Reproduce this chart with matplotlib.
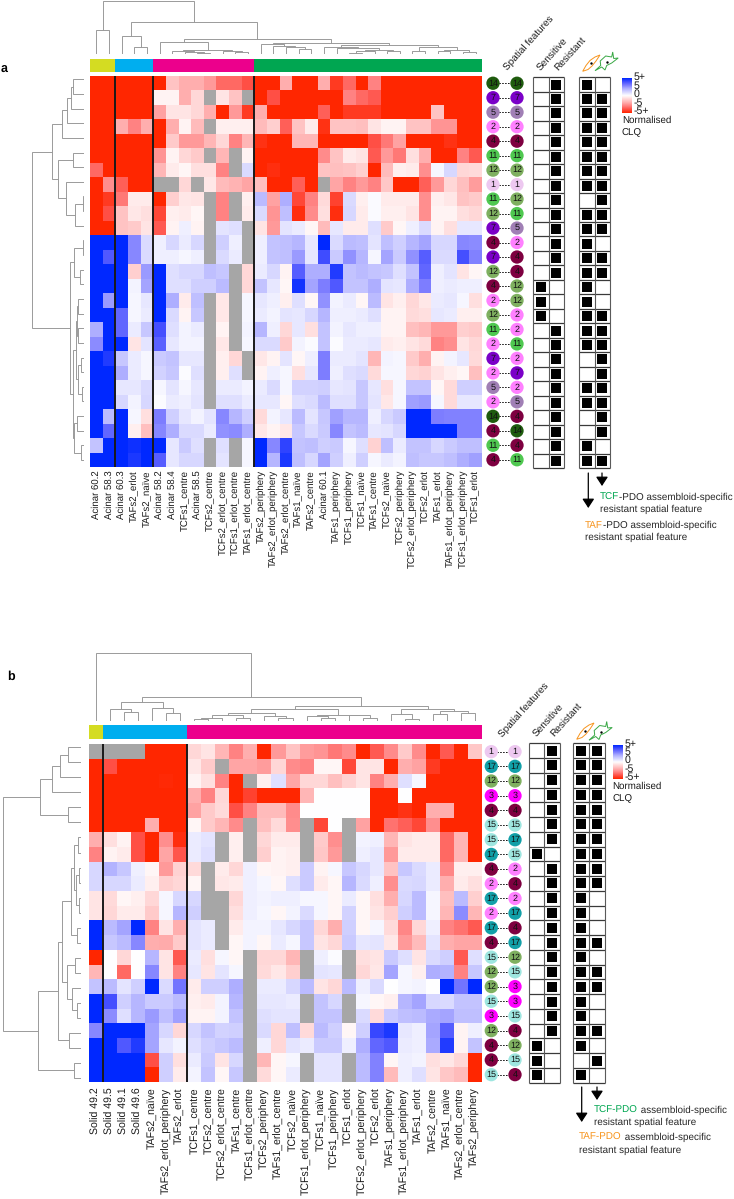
from typing import Any, List, Tuple

import matplotlib

matplotlib.use("Agg")
import matplotlib.pyplot as plt
import numpy as np
from matplotlib.colors import LinearSegmentedColormap
from matplotlib.patches import Polygon

plt.rcParams["font.family"] = ["Liberation Sans", "DejaVu Sans"]
plt.rcParams["text.hinting"] = "no_hinting"

WIDTH, HEIGHT = 734, 1199
na = float("nan")

# Panel a
columns_a = [
    "Acinar 60.2", "Acinar 58.3", "Acinar 60.3", "TAFs2_erlot", "TAFs2_naïve", "Acinar 58.2", "Acinar 58.4",
    "TCFs1_centre", "Acinar 58.5", "TCFs2_centre", "TCFs2_erlot_centre", "TCFs1_erlot_centre", "TAFs1_erlot_centre",
    "TAFs2_periphery", "TAFs2_erlot_periphery", "TAFs2_erlot_centre", "TAFs1_naïve", "TAFs2_centre", "Acinar 60.1",
    "TAFs1_periphery", "TCFs1_periphery", "TCFs1_naïve", "TAFs1_centre", "TCFs2_naïve", "TCFs2_periphery",
    "TCFs2_erlot_periphery", "TCFs2_erlot", "TAFs1_erlot", "TAFs1_erlot_periphery", "TCFs1_erlot_periphery",
    "TCFs1_erlot",
]
features_a = [
    (14, 14), (7, 7), (5, 5), (2, 2), (4, 4), (11, 11), (12, 12), (1, 1), (11, 12), (12, 11), (7, 5), (4, 2), (7, 4),
    (12, 4), (4, 12), (2, 12), (12, 2), (11, 2), (2, 11), (7, 2), (2, 7), (5, 2), (2, 5), (14, 4), (4, 14), (11, 4),
    (4, 11),
]
clq_a = [
    [-5, -5, -5, -5, -5, -5, -1.5, -2, -2, -2.5, -3.5, -3.5, -4, -5, -5, -2, -5, -5, -2, -4.5, -3.5, -5, -3, -5, -5, -5, -5, -5, -5, -5, -5],
    [-5, -5, -5, -5, -5, -0.3, -0.3, -2, -1, na, -0.7, -1.5, na, -5, -4, -5, -5, -5, -5, -5, -3, -3.5, -3.8, -5, -5, -5, -5, -5, -5, -5, -5],
    [-5, -5, -5, -5, -5, -2.3, -0.7, -0.7, -1, -2, -5, -2.5, -4.5, -2, -5, -5, -5, -5, -3.7, -5, -4.5, -4.5, -4.5, -5, -5, -5, -5, -1.5, -5, -5, -5],
    [-5, -5, -2, -3, -2, -5, -2, -0.3, -1.7, na, -0.4, -0.4, -0.4, -1.7, -1.2, -3.7, -1.5, -0.5, -4.7, -1.5, -1.5, -1.6, -0.7, -0.3, -0.3, -1.5, -1.5, -2.6, -2.6, -5, -5],
    [-5, -5, -5, -5, -5, -5, -1.3, -2.5, -2.5, -1.8, -1, -3, -1.8, -4.7, -5, -5, -1.8, -1.8, -5, -5, -5, -5, -4, -3.2, -2.3, -5, -5, -5, -4.7, -5, -5],
    [-5, -5, -5, -5, -5, -2.6, -0.3, -1, -1.3, na, -1.8, na, -0.3, -5, -5, -5, -5, -5, -2.8, -1.5, -0.5, -0.7, -3.8, -2.5, -3.2, -0.8, -2, -5, -5, -3, -3.8],
    [-3.5, -5, -5, -5, -5, -1.8, -0.5, -0.2, -0.8, -0.8, -3, na, 0.9, -5, -4.8, -5, -5, -5, -1.5, -1.6, -1.5, -1.2, -5, -1.7, -0.4, -0.5, -2.7, 0.2, 1, -1, -0.9],
    [-5, -2.7, -3.7, -5, -5, na, na, -1, na, -0.6, -1.7, -1.9, -2.2, -1.6, -5, -5, -3.7, -5, na, -2.2, -3, -2.5, -3, -1.4, -5, -5, -3.7, -2.5, -1, -1.6, -2.4],
    [-5, -4.5, -3.2, -0.5, -0.5, -5, -1.2, -0.6, -0.7, na, -3, na, -0.4, 1.7, -2.3, 2, -4.2, -3, -0.9, -4.3, 0.9, -0.4, 0.15, -0.5, -0.5, -0.5, -2.7, -0.4, -0.6, -1.5, -1.3],
    [-5, -4, -1.5, -0.6, -0.8, -4.2, -0.4, -0.5, -0.2, na, -3, na, -0.5, 0.9, -2.6, 1.6, -4.8, -2.8, -0.8, -4.8, 1, -0.5, 0.15, -0.4, -0.4, -0.7, -2.7, -0.3, -0.3, -0.8, -1],
    [-5, -5, -1.5, -1.3, -0.7, -3.8, -0.3, 0.4, -0.3, na, 0.7, 0.8, na, -0.7, -2.5, 0.7, 0.5, -0.2, -1.7, 0.6, -0.5, -0.5, 0.8, -1.3, -0.2, 0.4, 0.9, -0.3, -0.8, 0.6, 0.6],
    [5, 5, 5, 2.8, 0.9, 0.4, 1, 0.5, 1, na, 1.2, 0.4, na, 0.4, 1.5, 1.6, 1.8, 0.6, 5, 0.9, 1.7, 1.6, 0.7, 1.6, 1.2, 1.8, 2.2, 1, 1, 2.8, 2.7],
    [5, 3.8, 5, 2.8, 0.9, 0.4, 0.4, 0.2, 0.4, na, 0.9, 0.5, na, 0.4, 1.5, 1.6, 2.4, 0.6, 4.1, 1.3, 2.6, 1.8, 0.2, 2.2, 1.3, 2.6, 3.7, 0.9, 0.9, 4, 2.9],
    [5, 5, 5, -1.2, 2.4, 5, 0.8, 1, 1, 1.6, 1.4, na, -1, 0.5, 1, -0.3, 3.7, 2, 2, 4.5, 1.5, 1.7, 1.5, 1.4, 0.8, 1.5, 3.5, 0.4, 0.7, -0.7, -0.2],
    [5, 5, 5, 0.3, 2.2, 5, 0.8, 0.8, 1.2, 1.2, 1.7, na, -1, 1.5, 0.6, -0.2, 4.7, 2.2, 3, 3.8, 1.5, 1.5, 2, 0.7, 0.6, 2, 3, 0.4, 0.5, 0.4, 0.4],
    [5, 2.4, 5, 0.2, 0.6, 5, 2, -0.5, 1.6, na, -0.6, na, 0.2, 0.6, 0.4, -0.4, 0.8, -0.2, 2.6, 0.3, 0.5, -0.2, 1.7, -0.7, -0.4, -1, -0.6, 0.5, 0.6, 0.2, -0.8],
    [5, 5, 3.5, 0.2, 0.5, 5, 0.9, -0.3, 1.4, na, -0.6, na, 0.2, 0.5, 0.3, 0.7, 0.6, 1, 1.8, 0.4, 0.4, 0.5, 0.8, -0.3, -0.3, -0.9, -0.8, 0.6, 0.5, -0.4, -0.4],
    [2, 5, 3.5, 0.5, 1.4, 4, 0.8, 0.3, 0.5, na, -0.3, na, 0.3, 1.8, 0.4, -1, 0.6, -0.8, 1.5, 0.3, 0.6, 0.4, 0.4, -0.3, -0.3, -1.6, -1.8, -2.5, -2.5, -1.2, -1.3],
    [2.7, 5, 5, -0.7, 0.7, 3.6, 0.6, 0.3, 0.3, na, -0.6, na, 0.2, 0.9, 0.9, -1.3, 0.3, 0.1, 1.5, 0.1, 0.5, 0.5, 0.6, -0.5, -0.4, -0.7, -0.9, -3, -2.7, -0.7, -1],
    [5, 4.5, 1.4, 0.5, 0.2, 1.3, 1.5, 0.6, 0.6, na, -0.4, -1, na, -0.6, -0.3, 0.7, -0.2, 0.4, 3, 0.5, 0.5, 0.7, -1.8, 0.3, 0.2, -1.3, -2, -0.3, 0.3, 0.6, -0.9],
    [5, 5, 2, 0.5, 0.2, 1.1, 1.4, 0.1, 0.8, na, -0.4, 0.8, na, -0.3, 0.4, 0.2, -0.8, 0.6, 3, 0.4, 0.8, 0.9, -0.9, 0.2, 0.2, -1, -1.1, -0.7, -0.4, -0.2, -1.6],
    [5, 5, 0.6, 0.6, 0.9, 0.2, 0.7, 0.2, 0.6, na, 0.5, 0.5, 0.3, 0.5, 0.9, 0.2, 1.1, 1.1, 1.2, 0.6, 0.7, 1.4, 0.6, -0.8, 0.2, 1.5, 1.5, -0.2, -0.9, 1.2, 1.2],
    [5, 5, 1, 0.3, 1, 0.1, 0.5, 0.4, 0.7, na, 0.8, 0.8, 0.5, 0.6, 0.6, -0.2, 0.8, 0.9, 1.7, 0.8, 0.8, 1.4, 0.7, -0.6, 0.2, 2.3, 2.4, 0.2, -0.9, 0.6, 0.6],
    [5, 1.7, 5, 0.2, -0.8, 3, 1.2, 0.6, 0.3, 0.7, 2.8, 1.8, 1.2, -0.9, 0.3, 0.6, 1.7, 0.7, 1.4, 2.3, 1.8, 1.8, 0.4, 1, 1.3, 5, 5, 3, 2.9, 2.9, 2.9],
    [5, 3.5, 5, -0.4, -1.6, 2.8, 2, 0.9, 0.9, 0.5, 2.6, 2.7, 2, -0.6, -0.3, -0.6, 1.4, 0.9, 1.3, 2.8, 1.5, 1.7, 0.6, 0.7, 1, 5, 5, 5, 5, 2.9, 2.9],
    [1.5, 5, 5, 4.8, 5, 5, 0.6, 1.3, 0.8, na, 0.8, na, 0.2, 5, 2.8, 4.3, 1.5, 1.6, 1.2, 1.3, 0.2, 0.8, -1.1, 1.6, 0.5, 1.5, 1.5, 1, 1.3, 1.6, 1.6],
    [5, 5, 5, 4.6, 5, 3.7, 0.6, 1, 1, na, 0.7, na, 0.2, 5, 1.8, 4.6, 1.6, 1, 2.2, 1.2, 0.4, 1.2, 0.2, 0.5, 0.3, 1.6, 1.4, 1.4, 1.6, 2, 2.3],
]
sensitive_a = [0] * 14 + [1, 1, 1] + [0] * 10
taf_a = [1, 1, 1, 1, 1, 1, 1, 1, 0, 1, 1, 1, 1, 1, 1, 1, 1, 1, 1, 0, 0, 1, 1, 0, 0, 1, 1]
tcf_a = [0, 1, 1, 1, 1, 1, 1, 1, 1, 1, 1, 0, 1, 1, 0, 0, 1, 1, 1, 1, 1, 1, 1, 1, 1, 0, 1]
groups_a = [(2, "#d4dc22"), (3, "#00aeef"), (8, "#ec008c"), (18, "#00a651")]
splits_a = [2, 5, 13]

# Panel b
columns_b = [
    "Solid 49.2", "Solid 49.5", "Solid 49.1", "Solid 49.6", "TAFs2_naïve", "TAFs2_erlot_periphery", "TAFs2_erlot",
    "TCFs1_centre", "TCFs2_centre", "TCFs2_erlot_centre", "TAFs1_centre", "TCFs1_erlot_centre", "TCFs2_periphery",
    "TAFs1_erlot_centre", "TCFs2_naïve", "TCFs1_erlot_periphery", "TCFs1_naïve", "TCFs1_periphery", "TCFs1_erlot",
    "TCFs2_erlot_periphery", "TCFs2_erlot", "TAFs1_periphery", "TAFs1_erlot_periphery", "TAFs1_erlot", "TAFs2_centre",
    "TAFs1_naïve", "TAFs2_erlot_centre", "TAFs2_periphery",
]
features_b = [
    (1, 1), (17, 17), (12, 12), (3, 3), (4, 4), (15, 15), (15, 17), (17, 15), (4, 2), (2, 4), (17, 2), (2, 17),
    (17, 4), (4, 17), (15, 12), (12, 15), (12, 3), (15, 3), (3, 15), (12, 4), (4, 12), (4, 15), (15, 4),
]
clq_b = [
    [na, na, na, na, -5, -5, -5, -1, -0.7, -1.8, -3, -2, -5, -2.5, -1.5, -2.4, -2.6, -3.2, -2.8, -5, -3.8, -2.8, -1.3, -2.8, -5, -3.8, -5, -1.4],
    [-5, -4, -5, -5, -5, -5, -5, -0.6, -1.3, na, -2.2, -2.2, -2.4, -1, -2.8, -3, -0.2, -0.2, -4.2, -0.7, -0.7, -5, -2, -2.3, -4.5, -5, -5, -5],
    [-5, -5, -5, -5, -5, -4.9, -5, -0.3, -0.8, -3, -5, na, -0.4, 0.8, -2.2, -1, -1, -1.6, -1.1, -0.7, -3, -2, 0.8, 0.2, -5, -5, -5, -5],
    [-5, -5, -5, -5, -5, -5, -5, -2, -3, -1, -5, -4.3, -5, -5, -5, -1.8, 0, 0, 0, 0, -5, -5, 0, -5, -5, -5, -5, -5],
    [-5, -5, -5, -5, -5, -5, -5, -2.3, -1.3, -0.9, -4, -3, -1.7, -1.7, -2.8, 0, 0, 0, 0, 0, -5, -5, -4.7, -5, -2, -2, -5, -5],
    [-5, -5, -5, -5, -2, -5, -5, -0.2, -1.3, -1.8, -2.8, na, -1.6, -0.9, -2.7, na, -4.2, 0, na, -2.3, -5, -3.3, -3.7, -4.2, -2.7, -5, -5, -5],
    [-2, -0.8, -0.3, -4, -5, -2.7, -4.8, 0.5, 0.7, na, -0.4, na, -1, -0.5, -0.5, na, -1.3, -2.7, na, 0.3, 0.4, -1.8, -0.7, -0.5, -0.5, -3.5, -1.8, -5],
    [-3, -0.3, -0.5, -4, -5, -2.2, -3.9, 0.5, 0.8, na, -0.4, na, -1.2, -0.3, -0.4, na, -1.4, -2.5, na, 0.4, 0.6, -2.5, -0.5, -0.5, -0.5, -3.5, -1.8, -5],
    [1, 1.9, 1.4, 0.4, -0.2, -2.5, -1.1, -0.9, na, -0.5, -1, 0.4, -0.2, -0.3, -0.4, 1.3, -0.3, 0.2, 1.4, 1, 0.6, -1.5, 1.4, 0.9, 0.5, -2.9, -0.4, -0.4],
    [1, 1, 1, 0.5, -0.4, -1.2, -1, -0.2, na, -0.6, -0.5, 0.4, 0.2, -0.2, 0.8, 1.3, -0.5, -0.2, 1.8, 0.9, 0.4, -2.7, 0.9, 1, 0.5, -2, -0.5, -0.8],
    [-0.7, -0.9, -0.2, -0.4, -1, 0.2, 1, 1, na, na, -1, 0.4, 0.3, 0.4, 0.4, 0.2, 0.2, -0.2, 0.5, -0.2, -0.8, -2, 1, 1.7, 0.2, -1.6, 1.7, -1.2],
    [-0.7, -1, -0.5, -0.5, -1.3, 0.2, 1.8, 1.2, na, na, -0.8, 0.4, 0.2, -0.2, 0.3, 0.9, 0.2, -0.2, 1.1, -0.2, -0.7, -1.2, 1.2, 1.7, 0.2, -1.8, 2.7, -1.8],
    [5, 1.7, 2.2, 5, -3, -0.7, -2, 0.7, 0.5, na, -0.5, 0.3, 0.3, 0.6, 1, 1.4, -1, -2, 1.2, -0.2, 0.2, -0.9, -2.9, -1, 0.4, -3, -3.3, -3.8],
    [5, 1.4, 1.7, 2.8, -2, -2.1, -1.3, 0.7, 0.5, na, -0.2, 0.3, -0.2, 0.5, 0.2, 1.4, -0.7, -1, 1.3, 0.6, 0.7, -0.6, -2.5, -1.7, 0.7, -2, -2.2, -2.2],
    [-5, 0, -1, 0, 1.8, -0.7, -3.8, 0.5, -0.8, 0.2, -0.2, na, -1, -1, -1.8, na, 0.4, 0.1, na, -0.8, -0.7, 1.3, 0.8, -0.7, 0.9, 1.2, -3.8, 0.8],
    [-1.8, 0, -3.5, 0, 2.8, -0.7, -3, 0.6, -0.7, 0.7, 0.2, na, -0.9, -0.6, -1.2, na, 0.7, 0.6, na, -1, -0.6, 2.2, 0.2, -0.4, 2, 1.9, -3, 1.4],
    [1.5, 1.7, 0.7, 1.2, 5, 0.9, 3.2, -0.5, 1.2, 1.2, 2, na, 0.5, 0.5, 1, 1.7, -0.7, -1, 1.7, 0.4, 0.9, 0, 0.2, 0.3, 0, 5, 3.2, 5],
    [5, 4, 1.2, 1.8, 1.3, 1.3, 1.7, -0.4, -0.5, 0.3, 1.8, na, 0.6, 0.6, 0.5, na, 1.5, 1, na, 0.2, -0.2, -0.4, 1.8, 2.2, 1, 0.9, 1.5, 1.5],
    [5, 2.7, 0.8, 1.8, 2.4, 1.6, 2.3, -0.3, -0.3, 0.3, 1.5, na, 0.8, 0.7, 0.7, na, 1.5, 1.5, na, 0.9, -0.9, 1.3, 1.6, 1.7, 2.1, 2.2, 1.6, 1.6],
    [2.8, 5, 5, 5, 2.2, 1, -1, 1, 1.5, 1.1, 1.2, na, 0.9, -1, 1.6, -0.9, 1.7, 1.2, -0.2, 1.2, 4.2, 4.6, 0.6, 0.4, 2.2, 3.7, -0.3, 0.4],
    [5, 5, 3.8, 4.5, 2.2, 0.6, 0.3, 0.8, 1.2, 1.4, 1.7, na, 0.4, -1, 0.7, 0.5, 1.3, 1.3, 0.4, 2, 3.5, 3.8, 0.5, 0.4, 2.1, 4.5, -0.3, 1.5],
    [5, 5, 5, 5, -4, 1.2, -0.8, 0.5, 1.3, -0.7, 1, na, -1.8, -0.2, 0.2, na, 0.7, 0.7, na, 1.7, 2.9, -0.2, 0.4, 0.3, -0.8, -0.6, -1, -5],
    [5, 5, 5, 5, -5, 1.2, -0.5, 0.3, 1.5, -0.2, 1.4, na, -0.9, -0.2, 0.5, na, 0.7, 0.7, na, 1.7, 2.9, -1.7, 0.4, 0.8, -0.7, -1.4, -1.7, -5],
]
sensitive_b = [0, 0, 0, 0, 0, 0, 0, 1, 0, 0, 0, 0, 0, 0, 0, 0, 0, 0, 0, 0, 1, 1, 1]
taf_b = [1, 1, 1, 1, 1, 1, 1, 1, 1, 1, 1, 1, 1, 1, 1, 1, 1, 1, 1, 1, 1, 0, 1]
tcf_b = [1, 1, 1, 1, 1, 1, 1, 1, 1, 1, 0, 0, 0, 1, 0, 1, 1, 0, 0, 1, 0, 1, 0]
groups_b = [(1, "#d4dc22"), (6, "#00aeef"), (21, "#ec008c")]
splits_b = [1, 7]

# Cluster trees as (merge height, left, right), a plain int is a leaf
col_tree_a = (53, (23.7, 0, 1), (32,
    (17.7, 2, (7.3, 3, 4)),
    (15,
        (11.7, 5, (3.6, (2.6, 6, (2.2, 7, (1.5, 8, 9))), (2.6, 10, (1.6, 11, 12)))),
        (11.3,
            (9.7, 13, (8, 14, (6.7, 15, (4.7, 16, 17)))),
            (9,
                (7.3, 18, (5.7, 19, (4, (2.6, (1.4, 20, 21), 22), (2.8, 23, 24)))),
                (6.7, (3.3, 25, 26), (4.5, (3.3, 27, 28), (1.7, 29, 30))),
            ),
        ),
    ),
))
row_tree_a = (52.7,
    (32.7,
        (22, (17.7, (13.3, (11, 0, 1), 2), 3), 4),
        (26, (11.7, 5, 6), (18.3, 7, (9.3, (1, 8, 9), 10))),
    ),
    (14.3,
        (10.3, (1.7, 11, 12), (4.3, 13, 14)),
        (11,
            (8.3, (7, (6, 15, 16), (6.5, 17, 18)), (6, (3.7, 19, 20), (2, 21, 22))),
            (10.3, (7.7, 23, 24), (3.7, 25, 26)),
        ),
    ),
)
col_tree_b = (68, 0, (24,
    (18.3, (11.3, 1, (8.3, 2, 3)), (12.3, 4, (7.3, 5, 6))),
    (14.7,
        (11.3,
            (7.3,
                (5.3, (3, (1.5, 7, 8), 9), (2.3, 10, 11)),
                (4.7, 12, (2.3, 13, 14)),
            ),
            (6, (4.7, 15, (2.3, 16, 17)), (5.3, 18, (3, 19, 20))),
        ),
        (11.3, (6.3, 21, (2, 22, 23)), (9.7, (6.7, 24, 25), (7.3, 26, 27))),
    ),
))
row_tree_b = (77.7,
    (41, (29.3, (21, (13.3, 0, 1), 2), 3), (13.3, 4, 5)),
    (42.7,
        (22.7,
            (18.7,
                (10.3, (7, (2.7, 6, 7), (5, (1.7, 8, 9), (2.3, 10, 11))), (3.7, 12, 13)),
                (14.3, (6, 14, 15), (9.3, 16, (3.7, 17, 18))),
            ),
            (12, 19, 20),
        ),
        (7, 21, 22),
    ),
)

feature_colors = {
    1: "#edc8f0", 2: "#ff80ff", 3: "#ff00ff", 4: "#7e0040", 5: "#a07fb5", 7: "#7b00c8", 11: "#4fc850", 12: "#7fb060",
    14: "#1f5c0e", 15: "#9ee6e0", 17: "#12a0a8",
}

clq_cmap = LinearSegmentedColormap.from_list(
    "clq",
    [
        (0.0, "#ff2600"), (0.1, "#ff5046"), (0.2, "#ff8282"), (0.3, "#ffafaf"), (0.4, "#ffd7d7"), (0.5, "#ffffff"),
        (0.6, "#d7d7ff"), (0.7, "#afafff"), (0.8, "#7d7dff"), (0.9, "#4650ff"), (1.0, "#0028ff"),
    ],
)
clq_cmap.set_bad("#a6a6a6")


def px_axes(fig: plt.Figure, x0: float, y0: float, x1: float, y1: float) -> plt.Axes:
    ax = fig.add_axes((x0 / WIDTH, 1 - y1 / HEIGHT, (x1 - x0) / WIDTH, (y1 - y0) / HEIGHT))
    ax.axis("off")
    return ax


def draw_tree(ax: plt.Axes, node: Any, horizontal: bool) -> Tuple[float, float]:
    # Returns leaf position and merge height of the node
    if isinstance(node, int):
        return float(node), 0.0
    height, left, right = node
    p1, h1 = draw_tree(ax, left, horizontal)
    p2, h2 = draw_tree(ax, right, horizontal)
    pos = [p1, p1, p2, p2]
    hts = [h1, height, height, h2]
    if horizontal:
        ax.plot(hts, pos, color="#9a9a9a", lw=0.7, solid_joinstyle="miter")
    else:
        ax.plot(pos, hts, color="#9a9a9a", lw=0.7, solid_joinstyle="miter")
    return (p1 + p2) / 2, height


def draw_flags(fig: plt.Figure, x0: float, x1: float, y0: float, y1: float, flags: List[List[int]]) -> None:
    grid = np.array(flags)
    ax = px_axes(fig, x0, y0, x1, y1)
    rows, cols = grid.shape
    ax.hlines(np.arange(rows + 1), 0, cols, color="#3a3a3a", lw=0.9, clip_on=False)
    ax.vlines(np.arange(cols + 1), 0, rows, color="#5a5a5a", lw=0.8, clip_on=False)
    ys, xs = np.nonzero(grid)
    ax.scatter(xs + 0.5, ys + 0.5, marker="s", s=58, c="black", linewidths=0, zorder=3)
    ax.set_xlim(0, cols)
    ax.set_ylim(rows, 0)


def draw_panel(fig: plt.Figure, cfg: dict) -> None:
    values = np.ma.masked_invalid(np.array(cfg["clq"], dtype=float))
    rows, cols = values.shape
    hx0, hx1, hy0, hy1 = cfg["heat"]

    ax = px_axes(fig, hx0, hy0, hx1, hy1)
    ax.pcolormesh(values, cmap=clq_cmap, vmin=-5, vmax=5, antialiased=False)
    ax.set_xlim(0, cols)
    ax.set_ylim(rows, 0)
    for split in cfg["splits"]:
        ax.axvline(split, color="#1a1a1a", lw=1.4)
    step = (hx1 - hx0) / cols
    for i, name in enumerate(cfg["columns"]):
        fig.text(
            (hx0 + step * (i + 0.5)) / WIDTH, 1 - cfg["label_y"] / HEIGHT, name, rotation=90, ha="center", va="top",
            fontsize=cfg["label_size"], color="#1a1a1a",
        )

    # Group strip above the heat map
    strip = px_axes(fig, hx0, cfg["strip"][0], hx1, cfg["strip"][1])
    start = 0
    for count, color in cfg["groups"]:
        strip.barh(0, count, left=start, height=1, color=color, linewidth=0)
        start += count
    strip.set_xlim(0, cols)
    strip.set_ylim(-0.5, 0.5)

    # Dendrograms, one height unit is one pixel
    base, peak = cfg["col_tree_base"]
    top = px_axes(fig, hx0, peak, hx1, base)
    draw_tree(top, cfg["col_tree"], False)
    top.set_xlim(-0.5, cols - 0.5)
    top.set_ylim(0, base - peak)

    base, peak, first, last = cfg["row_tree_base"]
    gap = (last - first) / (rows - 1)
    side = px_axes(fig, peak, first - gap / 2, base, last + gap / 2)
    draw_tree(side, cfg["row_tree"], True)
    side.set_xlim(base - peak, 0)
    side.set_ylim(rows - 0.5, -0.5)

    # Spatial feature pairs
    x_left, x_right = cfg["pair_x"]
    pairs = px_axes(fig, x_left, hy0, x_right, hy1)
    pairs.set_xlim(0, 1)
    pairs.set_ylim(rows - 0.5, -0.5)
    for i, (a, b) in enumerate(cfg["features"]):
        pairs.plot([0, 1], [i, i], color="black", lw=0.7, ls=(0, (1.5, 1.5)), zorder=1)
        pairs.scatter([0, 1], [i, i], s=92, c=[feature_colors[a], feature_colors[b]], linewidths=0, zorder=2, clip_on=False)
        pairs.text(0, i, str(a), ha="center", va="center", fontsize=6.5, color="#111111", zorder=3)
        pairs.text(1, i, str(b), ha="center", va="center", fontsize=6.5, color="#111111", zorder=3)

    # Sensitive / resistant and assembloid boxes
    sens = cfg["sensitive"]
    fy0, fy1 = cfg["flag_y"]
    draw_flags(fig, cfg["sens_x"][0], cfg["sens_x"][1], fy0, fy1, [[s, 1 - s] for s in sens])
    draw_flags(fig, cfg["spec_x"][0], cfg["spec_x"][1], fy0, fy1, [[t, c] for t, c in zip(cfg["taf"], cfg["tcf"])])

    # Colour key
    kx0, kx1, ky0, ky1 = cfg["key"]
    key = px_axes(fig, kx0, ky0, kx1, ky1)
    key.imshow(np.linspace(5, -5, 64)[:, None], cmap=clq_cmap, vmin=-5, vmax=5, aspect="auto")
    key_labels = ["5+", "5", "0", "-5", "-5+"]
    for j, text in enumerate(key_labels):
        y = ky0 - 1 + (ky1 - ky0 - 1) * j / 4
        fig.text((kx1 + 2) / WIDTH, 1 - y / HEIGHT, text, ha="left", va="center", fontsize=7.6, color="#1a1a1a")
    fig.text(kx0 / WIDTH, 1 - (ky1 + 7.5) / HEIGHT, "Normalised", ha="left", va="center", fontsize=7, color="#1a1a1a")
    fig.text(kx0 / WIDTH, 1 - (ky1 + 19.5) / HEIGHT, "CLQ", ha="left", va="center", fontsize=7, color="#1a1a1a")


fig = plt.figure(figsize=(WIDTH / 100, HEIGHT / 100), dpi=100)

panel_a = {
    "clq": clq_a, "columns": columns_a, "features": features_a, "groups": groups_a, "splits": splits_a,
    "col_tree": col_tree_a, "row_tree": row_tree_a, "sensitive": sensitive_a, "taf": taf_a, "tcf": tcf_a,
    "heat": (90, 482, 76, 467), "strip": (59.3, 72), "label_y": 470, "label_size": 6.9, "col_tree_base": (54, 0),
    "row_tree_base": (84.3, 20, 79.3, 460), "pair_x": (493, 517), "sens_x": (533.3, 564), "spec_x": (579.3, 610),
    "flag_y": (77.3, 468), "key": (622, 632, 78.3, 113),
}
panel_b = {
    "clq": clq_b, "columns": columns_b, "features": features_b, "groups": groups_b, "splits": splits_b,
    "col_tree": col_tree_b, "row_tree": row_tree_b, "sensitive": sensitive_b, "taf": taf_b, "tcf": tcf_b,
    "heat": (89, 482, 744.3, 1082), "strip": (725.3, 738.7), "label_y": 1087.5, "label_size": 7.6,
    "col_tree_base": (720.7, 651.7), "row_tree_base": (81, 2, 747.3, 1078), "pair_x": (491.3, 515),
    "sens_x": (528.7, 560), "spec_x": (573.3, 605.3), "flag_y": (743.3, 1082.7), "key": (612.7, 622.7, 745, 779),
}
draw_panel(fig, panel_a)
draw_panel(fig, panel_b)

# Free annotations placed in image pixels
over = px_axes(fig, 0, 0, WIDTH, HEIGHT)
over.set_xlim(0, WIDTH)
over.set_ylim(HEIGHT, 0)
over.patch.set_visible(False)
over.set_zorder(5)

over.text(1, 69, "a", fontsize=9, fontweight="bold", va="center", ha="left")
over.text(7, 677, "b", fontsize=9, fontweight="bold", va="center", ha="left")

rot_labels = [
    ("Spatial features", 506, 69), ("Sensitive", 539, 69), ("Resistant", 556, 69),
    ("Spatial features", 501, 735.5), ("Sensitive", 535, 735.5), ("Resistant", 552, 735.5),
]
for text, x, y in rot_labels:
    over.text(x, y, text, rotation=48, rotation_mode="anchor", ha="left", va="center", fontsize=7.2, color="#1a1a1a")

# Cell icons and specificity arrows
orange_cells = [(591, 63), (585, 731)]
green_cells = [(606.7, 62), (600.7, 731.5)]
spindle = np.array([[-8.3, 8.3], [-5, 2.5], [-1, -2.5], [4, -6], [9, -8], [5, -2], [1, 3], [-3, 6.5]])
star = np.array([
    [-11.7, 8.7], [-6, 3.5], [-6.5, -1], [-1, -6], [5, -5], [6, -10], [7, -3.5], [11.5, -4], [5, 1], [0, 3.5],
    [-1.7, 8], [-5, 5],
])
for x, y in orange_cells:
    over.add_patch(Polygon(spindle + [x, y], closed=True, fill=False, ec="#f7941d", lw=0.7))
    over.scatter([x], [y], s=3, c="black", linewidths=0)
for x, y in green_cells:
    over.add_patch(Polygon(star + [x, y], closed=True, fill=False, ec="#39a845", lw=0.7))
    over.scatter([x], [y], s=3, c="black", linewidths=0)

arrows = [(588.3, 473, 508), (602, 473, 486), (581.7, 1087, 1122), (597, 1087, 1100)]
for x, y0, y1 in arrows:
    over.annotate(
        "", xy=(x, y1), xytext=(x, y0),
        arrowprops=dict(arrowstyle="-|>,head_width=0.36,head_length=0.55", color="black", lw=0.9, shrinkA=0, shrinkB=0),
    )

notes = [
    ("TCF", "#00a651", "-PDO assembloid-specific", 600, 497.7, 509.7),
    ("TAF", "#f7941d", "-PDO assembloid-specific", 585, 525, 537),
    ("TCF-PDO", "#00a651", " assembloid-specific", 594, 1110, 1122),
    ("TAF-PDO", "#f7941d", " assembloid-specific", 579, 1137.7, 1150),
]
renderer = fig.canvas.get_renderer()
for lead, color, rest, x, y1, y2 in notes:
    head = over.text(x, y1, lead, color=color, fontsize=7.1, va="center", ha="left")
    width = head.get_window_extent(renderer).width
    over.text(x + width, y1, rest, color="#262626", fontsize=7.1, va="center", ha="left")
    over.text(x, y2, "resistant spatial feature", color="#262626", fontsize=7.1, va="center", ha="left")

fig.savefig("out.png", dpi=100, facecolor="white")
